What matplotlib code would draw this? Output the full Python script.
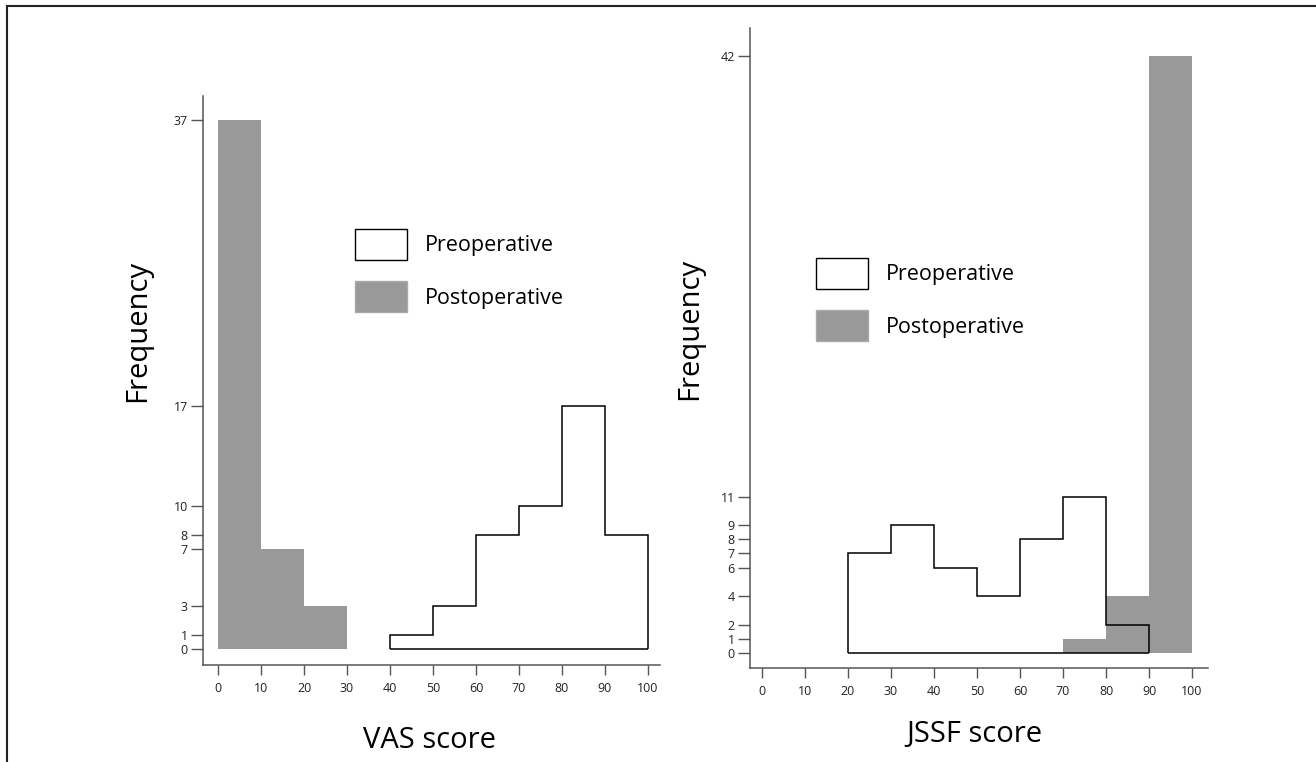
import matplotlib
matplotlib.use("Agg")
import matplotlib.pyplot as plt
from matplotlib.patches import Patch
from matplotlib.lines import Line2D

plt.rcParams['font.family'] = ['Open Sans', 'DejaVu Sans']

# bin edges (score)
edges = [0, 10, 20, 30, 40, 50, 60, 70, 80, 90, 100]

# VAS score frequencies per bin
vas_pre = [0, 0, 0, 0, 1, 3, 8, 10, 17, 8]
vas_post = [37, 7, 3, 0, 0, 0, 0, 0, 0, 0]
vas_yticks = [0, 1, 3, 7, 8, 10, 17, 37]

# JSSF score frequencies per bin
jssf_pre = [0, 0, 7, 9, 6, 4, 8, 11, 2, 0]
jssf_post = [0, 0, 0, 0, 0, 0, 0, 1, 4, 42]
jssf_yticks = [0, 1, 2, 4, 6, 7, 8, 9, 11, 42]

xticks = list(range(0, 101, 10))
gray = '#999999'
spine_col = '#555555'


def first_last(vals):
    # first and last non-empty bin
    idx = [i for i, v in enumerate(vals) if v > 0]
    return idx[0], idx[-1] + 1


def draw_panel(ax, pre, post, yticks, xlabel, xlim, ylim):
    # postoperative: filled gray bars
    lo, hi = first_last(post)
    ax.bar(edges[lo:hi], post[lo:hi], width=10, align='edge',
           color=gray, edgecolor='none', zorder=2)
    # preoperative: outline only
    lo, hi = first_last(pre)
    ax.stairs(pre[lo:hi], edges[lo:hi + 1], fill=False, baseline=0,
              color='black', lw=1.1, zorder=3)
    ax.hlines(0, edges[lo], edges[hi], color='black', lw=1.1, zorder=3)

    ax.set_xlim(*xlim)
    ax.set_ylim(*ylim)
    ax.set_xticks(xticks)
    ax.set_yticks(yticks)
    for s in ['top', 'right']:
        ax.spines[s].set_visible(False)
    for s in ['left', 'bottom']:
        ax.spines[s].set_color(spine_col)
        ax.spines[s].set_linewidth(1.1)
    ax.tick_params(axis='x', direction='out', length=7.5, width=1.0,
                   color=spine_col, labelsize=9, pad=5, labelcolor='#222222')
    ax.tick_params(axis='y', direction='out', length=9, width=1.0,
                   color=spine_col, labelsize=9, pad=2, labelcolor='#222222')
    ax.set_xlabel(xlabel, fontsize=21, va='center')
    ax.set_ylabel('Frequency', fontsize=21, va='center')


fig = plt.figure(figsize=(13.16, 7.62), dpi=100)

ax1 = fig.add_axes([0.1543, 0.1273, 0.3472, 0.7467])
draw_panel(ax1, vas_pre, vas_post, vas_yticks, 'VAS score',
           (-3.5, 102.8), (-1.1, 38.7))
ax1.xaxis.set_label_coords(0.495, -0.132)
ax1.yaxis.set_label_coords(-0.144, 0.587)

ax2 = fig.add_axes([0.5699, 0.1234, 0.3480, 0.8399])
draw_panel(ax2, jssf_pre, jssf_post, jssf_yticks, 'JSSF score',
           (-2.8, 103.7), (-1.06, 44.0))
ax2.xaxis.set_label_coords(0.49, -0.104)
ax2.yaxis.set_label_coords(-0.131, 0.530)

# legends
handles = [Patch(facecolor='white', edgecolor='black', lw=1.0),
           Patch(facecolor=gray, edgecolor='#aaaaaa', lw=1.0)]
labels = ['Preoperative', 'Postoperative']
for anchor in [(355 / 1316, 1 - 229 / 762), (816 / 1316, 1 - 258 / 762)]:
    fig.legend(handles, labels, loc='upper left', bbox_to_anchor=anchor,
               bbox_transform=fig.transFigure, frameon=False, fontsize=15.5,
               borderpad=0, borderaxespad=0, handlelength=2.42,
               handleheight=1.84, handletextpad=0.84, labelspacing=0.98)

# frame lines at left and top of the figure
fig.add_artist(Line2D([7 / 1316, 7 / 1316], [0, 1 - 6 / 762],
                      transform=fig.transFigure, color='#222222', lw=1.5))
fig.add_artist(Line2D([7 / 1316, 1], [1 - 6 / 762, 1 - 6 / 762],
                      transform=fig.transFigure, color='#222222', lw=1.5))

fig.savefig('out.png', dpi=100)
